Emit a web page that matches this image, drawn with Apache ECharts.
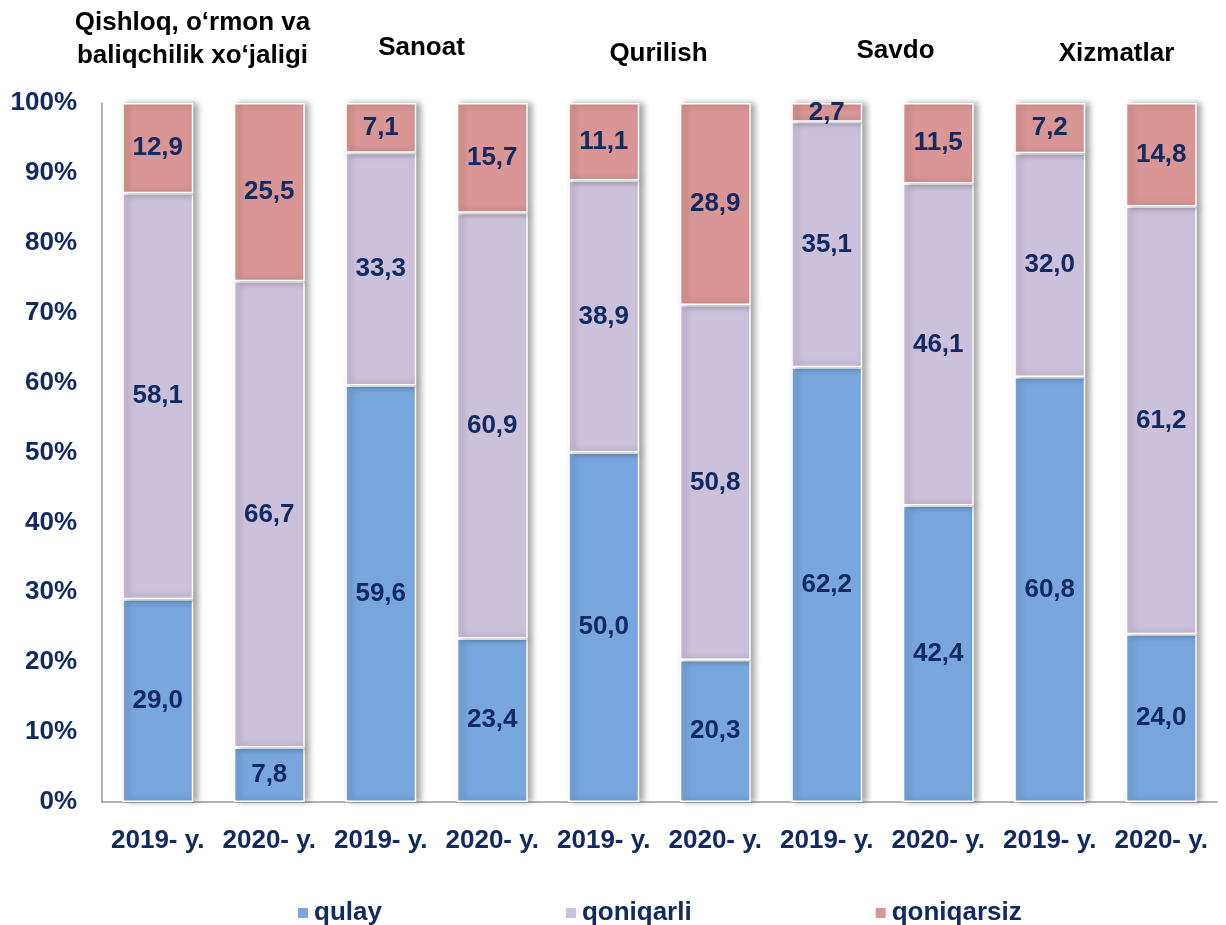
<!DOCTYPE html>
<html><head><meta charset="utf-8">
<script src="https://cdn.jsdelivr.net/npm/echarts@6/dist/echarts.min.js"></script>
<style>html,body{margin:0;padding:0;background:#fff}#c{width:1226px;height:925px}</style>
</head><body><div id="c"></div>
<script>
const categories = ['2019- y.','2020- y.','2019- y.','2020- y.','2019- y.','2020- y.','2019- y.','2020- y.','2019- y.','2020- y.'];
const groupTitles = ['Qishloq, o‘rmon va\nbaliqchilik xo‘jaligi','Sanoat','Qurilish','Savdo','Xizmatlar'];
const qulay = [29.0, 7.8, 59.6, 23.4, 50.0, 20.3, 62.2, 42.4, 60.8, 24.0];
const qoniqarli = [58.1, 66.7, 33.3, 60.9, 38.9, 50.8, 35.1, 46.1, 32.0, 61.2];
const qoniqarsiz = [12.9, 25.5, 7.1, 15.7, 11.1, 28.9, 2.7, 11.5, 7.2, 14.8];
const seriesNames = ['qulay','qoniqarli','qoniqarsiz'];
const colors = ['#77A7DE','#CCC1DA','#D99694'];
const navy = '#112A61';
const font = 'Liberation Sans, Arial, sans-serif';
const fs = 26;

const chart = echarts.init(document.getElementById('c'));
const gridLeft = 102, gridRight = 9, W = 1226;
const catW = (W - gridLeft - gridRight) / categories.length;
const titleOffsets = [-21, -15, -1, 13, 11];
const titleY = [6, 31, 37, 34, 37];
const graphics = groupTitles.map((t, i) => ({
  type: 'text',
  x: gridLeft + catW * (2 * i + 1) + titleOffsets[i], y: titleY[i],
  style: { text: t, fill: '#000', font: 'bold ' + fs + 'px ' + font, textAlign: 'center', textVerticalAlign: 'top', lineHeight: 33 }
}));

const data = [qulay, qoniqarli, qoniqarsiz];
chart.setOption({
  animation: false,
  backgroundColor: '#fff',
  textStyle: { fontFamily: font },
  grid: { left: gridLeft, right: gridRight, top: 103, bottom: 123, containLabel: false },
  legend: {
    left: 291, top: 895,
    itemWidth: 12, itemHeight: 12, itemGap: 182, icon: 'rect',
    textStyle: { color: navy, fontSize: fs, fontWeight: 'bold', fontFamily: font },
    data: seriesNames
  },
  xAxis: {
    type: 'category', data: categories,
    axisLine: { show: true, lineStyle: { color: '#999', width: 1.5 } },
    axisTick: { show: false },
    axisLabel: { color: navy, fontSize: fs, fontWeight: 'bold', fontFamily: font, margin: 26, interval: 0 }
  },
  yAxis: {
    type: 'value', min: 0, max: 100, interval: 10,
    axisLine: { show: true, lineStyle: { color: '#999', width: 1.5 } },
    axisTick: { show: false },
    splitLine: { show: false },
    axisLabel: { color: navy, fontSize: fs, fontWeight: 'bold', fontFamily: font, margin: 25, formatter: '{value}%' }
  },
  series: data.map((d, i) => ({
    name: seriesNames[i], type: 'bar', stack: 'total', data: d,
    barWidth: 71,
    itemStyle: { color: colors[i], borderColor: '#fff', borderWidth: 1.5,
      shadowColor: 'rgba(0,0,0,0.35)', shadowBlur: 6, shadowOffsetX: 4, shadowOffsetY: 0 },
    label: { show: true, position: 'inside', color: navy, fontSize: fs, fontWeight: 'bold', fontFamily: font,
      formatter: p => p.value.toFixed(1).replace('.', ',') }
  })),
  graphic: graphics
});
</script></body></html>
